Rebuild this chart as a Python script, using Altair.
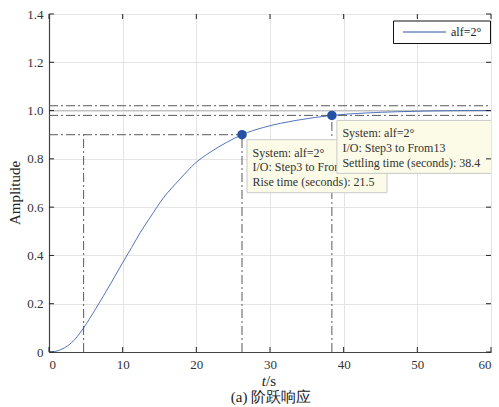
import altair as alt
import pandas as pd

# ---------------- data ----------------
t_vals = [0, 0.8, 1.6, 2.6, 3.5, 4.7, 6.2, 8.5, 10, 11.2, 12.4, 13.7, 15.5, 17.8,
          19.85, 21.9, 24.1, 26.2, 29.1, 33.7, 38.4, 43, 47.2, 51, 55, 60]
amp_vals = [0, 0.002, 0.01, 0.027, 0.052, 0.1, 0.172, 0.29, 0.37, 0.432, 0.495,
            0.556, 0.637, 0.717, 0.782, 0.828, 0.868, 0.9, 0.93, 0.96, 0.98, 0.99,
            0.995, 0.998, 0.9995, 1.0]
series_names = ["alf=2°"]
x_ticks = [0, 10, 20, 30, 40, 50, 60]
y_ticks = [0, 0.2, 0.4, 0.6, 0.8, 1.0, 1.2, 1.4]

rise_start = 4.7
rise_end = 26.2
settle_t = 38.4
rise_level = 0.9
settle_level = 0.98
band_levels = [0.98, 1.02]
final_value = 1.0

tip_t = [26.2, 38.4]
tip_amp = [0.9, 0.98]
tip_lines = [
    ["System: alf=2°", "I/O: Step3 to From13", "Rise time (seconds): 21.5"],
    ["System: alf=2°", "I/O: Step3 to From13", "Settling time (seconds): 38.4"],
]

# ---------------- layout ----------------
W, H = 442, 338
FONT = "Liberation Serif"
BLUE = "#2452a6"
DASH = [9, 3, 2, 3]
DCOL = "#5a5a5a"

xs = alt.Scale(domain=[0, 60], nice=False)
ys = alt.Scale(domain=[0, 1.4], nice=False)

curve_df = pd.DataFrame({"t": t_vals, "A": amp_vals})

base = alt.Chart(curve_df)

# grid + axes (no ticks; inward ticks drawn below)
axes = alt.Chart(pd.DataFrame({"t": [0], "A": [0]})).mark_point(opacity=0).encode(
    x=alt.X("t:Q", scale=xs, axis=alt.Axis(values=x_ticks, title=None, ticks=False,
            grid=True, gridColor="#e4e4e4", labelFont=FONT, labelFontSize=13,
            labelColor="#333", labelPadding=6, domainColor="#444", domainWidth=1.2)),
    y=alt.Y("A:Q", scale=ys, axis=alt.Axis(values=y_ticks, title=None, ticks=False,
            grid=True, gridColor="#e4e4e4", labelFont=FONT, labelFontSize=13,
            labelColor="#333", labelPadding=6, domainColor="#444", domainWidth=1.2,
            labelExpr="datum.value == 0 ? '0' : format(datum.value, '.1f')")),
)

xt_df = pd.DataFrame({"t": x_ticks})
yt_df = pd.DataFrame({"A": y_ticks})
tick_col = "#222"
ticks_bottom = alt.Chart(xt_df).mark_rule(color=tick_col, strokeWidth=1).encode(
    x=alt.X("t:Q", scale=xs), y=alt.value(H), y2=alt.value(H - 5))
ticks_top = alt.Chart(xt_df).mark_rule(color=tick_col, strokeWidth=1).encode(
    x=alt.X("t:Q", scale=xs), y=alt.value(0), y2=alt.value(5))
ticks_left = alt.Chart(yt_df).mark_rule(color=tick_col, strokeWidth=1).encode(
    y=alt.Y("A:Q", scale=ys), x=alt.value(0), x2=alt.value(5))
ticks_right = alt.Chart(yt_df).mark_rule(color=tick_col, strokeWidth=1).encode(
    y=alt.Y("A:Q", scale=ys), x=alt.value(W), x2=alt.value(W - 5))

# final value line
final_line = alt.Chart(pd.DataFrame({"A": [final_value]})).mark_rule(
    color="#bdbdbd", strokeWidth=1).encode(
    y=alt.Y("A:Q", scale=ys), x=alt.value(0), x2=alt.value(W))

# settling band lines (full width)
band = alt.Chart(pd.DataFrame({"A": band_levels})).mark_rule(
    color=DCOL, strokeWidth=1, strokeDash=DASH).encode(
    y=alt.Y("A:Q", scale=ys), x=alt.value(0), x2=alt.value(W))

# rise level horizontal line 0 -> rise_end
hseg = alt.Chart(pd.DataFrame({"t0": [0], "t1": [rise_end], "A": [rise_level]})).mark_rule(
    color=DCOL, strokeWidth=1, strokeDash=DASH).encode(
    x=alt.X("t0:Q", scale=xs), x2="t1:Q", y=alt.Y("A:Q", scale=ys))

# vertical lines
vseg = alt.Chart(pd.DataFrame({
    "t": [rise_start, rise_end, settle_t],
    "A0": [0, 0, 0],
    "A1": [rise_level, rise_level, settle_level]})).mark_rule(
    color=DCOL, strokeWidth=1, strokeDash=DASH).encode(
    x=alt.X("t:Q", scale=xs), y=alt.Y("A0:Q", scale=ys), y2="A1:Q")

curve = base.mark_line(color=BLUE, strokeWidth=0.8, interpolate="monotone").encode(
    x=alt.X("t:Q", scale=xs), y=alt.Y("A:Q", scale=ys))

tips_df = pd.DataFrame({"t": tip_t, "A": tip_amp})
markers = alt.Chart(tips_df).mark_point(filled=True, size=90, color=BLUE, opacity=1).encode(
    x=alt.X("t:Q", scale=xs), y=alt.Y("A:Q", scale=ys))

# data tip boxes
rows = []
for k in range(len(tip_t)):
    for i, line in enumerate(tip_lines[k]):
        rows.append({"tip": k, "line": i, "t": tip_t[k], "A": tip_amp[k], "txt": line})
tip_text_df = pd.DataFrame(rows)

box_right = [145, 162]
tip_layers = []
for k in range(len(tip_t)):
    box = alt.Chart(tips_df.iloc[[k]]).mark_rect(
        fill="#fbfbe8", stroke="#c9c9c9", strokeWidth=1,
        xOffset=5, x2Offset=box_right[k], yOffset=5, y2Offset=58, clip=True).encode(
        x=alt.X("t:Q", scale=xs), x2="t:Q", y=alt.Y("A:Q", scale=ys), y2="A:Q")
    tip_layers.append(box)
    for i in range(3):
        txt = alt.Chart(tip_text_df).transform_filter(
            (alt.datum.tip == k) & (alt.datum.line == i)).mark_text(
            align="left", baseline="middle", dx=10.5, dy=18 + 14.6 * i,
            font=FONT, fontSize=12, color="#333", clip=True).encode(
            x=alt.X("t:Q", scale=xs), y=alt.Y("A:Q", scale=ys), text="txt:N")
        tip_layers.append(txt)

# legend (manual box)
leg_df = pd.DataFrame({"name": series_names})
leg_box = alt.Chart(leg_df).mark_rect(fill="white", stroke="#111", strokeWidth=1).encode(
    x=alt.value(344.5), x2=alt.value(441.5), y=alt.value(7), y2=alt.value(29.5))
leg_line = alt.Chart(leg_df).mark_rule(color=BLUE, strokeWidth=1).encode(
    x=alt.value(354), x2=alt.value(397), y=alt.value(18))
leg_text = alt.Chart(leg_df).mark_text(align="left", baseline="middle", font=FONT,
    fontSize=12, color="#222").encode(x=alt.value(402), y=alt.value(18), text="name:N")

# titles
title_df = pd.DataFrame({"a": ["Amplitude"], "t": ["t"], "s": ["/s"], "c": ["(a) 阶跃响应"]})
ytitle = alt.Chart(title_df).mark_text(angle=270, font=FONT, fontSize=15, color="#222",
    baseline="middle", align="center").encode(x=alt.value(-34), y=alt.value(179), text="a:N")
xt1 = alt.Chart(title_df).mark_text(font=FONT, fontSize=15, fontStyle="italic", color="#222",
    align="right", baseline="middle").encode(x=alt.value(217), y=alt.value(367), text="t:N")
xt2 = alt.Chart(title_df).mark_text(font=FONT, fontSize=15, color="#222",
    align="left", baseline="middle").encode(x=alt.value(217), y=alt.value(367), text="s:N")
cap = alt.Chart(title_df).mark_text(font=FONT, fontSize=15, color="#222",
    align="center", baseline="middle").encode(x=alt.value(222), y=alt.value(383), text="c:N")

chart = alt.layer(
    axes, final_line, band, hseg, vseg, curve, markers, *tip_layers,
    ticks_bottom, ticks_top, ticks_left, ticks_right,
    leg_box, leg_line, leg_text, ytitle, xt1, xt2, cap,
).properties(
    width=W, height=H,
    autosize=alt.AutoSizeParams(type="none"),
    padding={"left": 49, "top": 14, "right": 8, "bottom": 55},
).configure_view(stroke="#111", strokeWidth=1.5).configure(background="white")

chart.save("out.html", embed_options={"renderer": "svg", "actions": False})
